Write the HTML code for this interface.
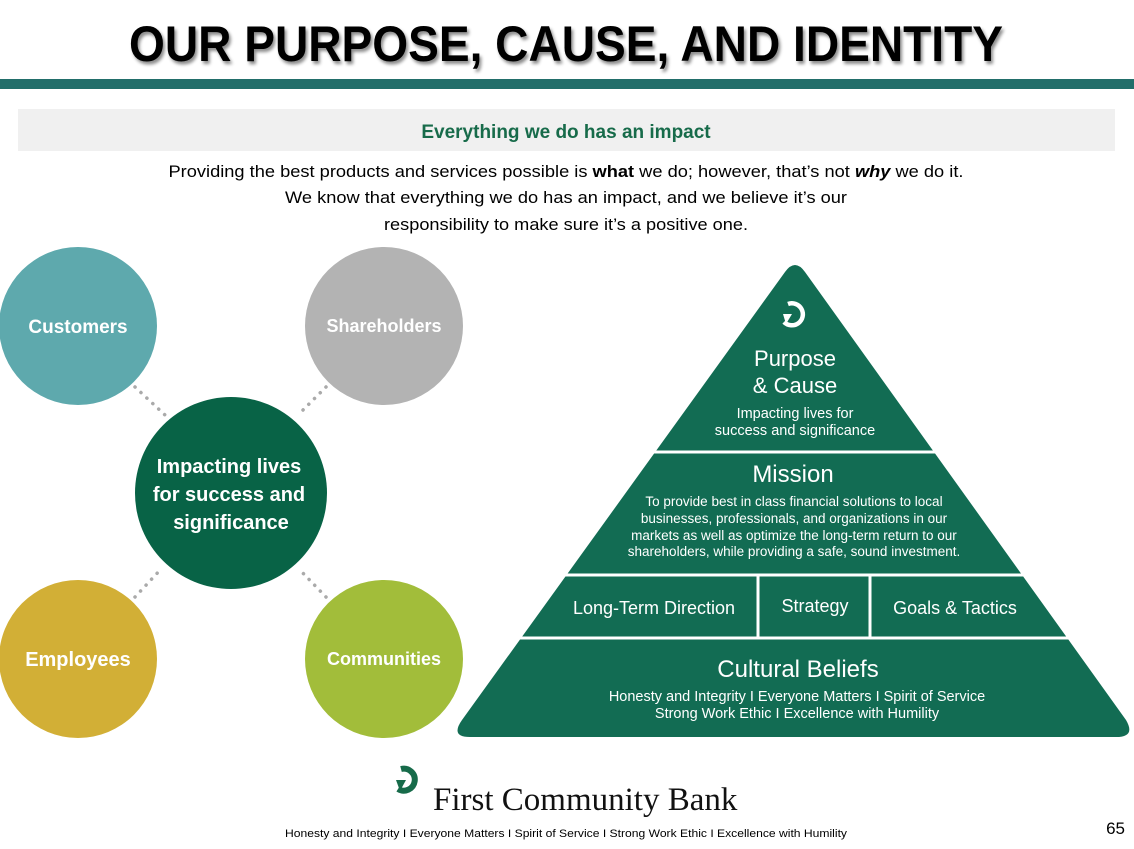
<!DOCTYPE html>
<html><head><meta charset="utf-8"><style>
body{margin:0;width:1134px;height:844px;background:#fff;overflow:hidden;font-family:"Liberation Sans",sans-serif}
</style></head><body>
<svg width="1134" height="844" viewBox="0 0 1134 844" xmlns="http://www.w3.org/2000/svg" font-family="Liberation Sans, sans-serif">
<defs><filter id="sh"><feDropShadow dx="2" dy="3" stdDeviation="1.5" flood-color="#000" flood-opacity="0.45"/></filter></defs>
<text x="566" y="61" text-anchor="middle" font-size="50" font-weight="bold" fill="#000" filter="url(#sh)" textLength="874" lengthAdjust="spacingAndGlyphs">OUR PURPOSE, CAUSE, AND IDENTITY</text>
<rect x="0" y="79" width="1134" height="10" fill="#226e6a"/>
<rect x="18" y="109" width="1097" height="42" fill="#f0f0f0"/>
<text x="566" y="138" text-anchor="middle" font-size="19" font-weight="bold" fill="#176b4a">Everything we do has an impact</text>
<g font-size="17" fill="#000" text-anchor="middle">
<text x="566" y="177" textLength="795" lengthAdjust="spacingAndGlyphs">Providing the best products and services possible is <tspan font-weight="bold">what</tspan> we do; however, that’s not <tspan font-weight="bold" font-style="italic">why</tspan> we do it.</text>
<text x="566" y="203" textLength="562" lengthAdjust="spacingAndGlyphs">We know that everything we do has an impact, and we believe it’s our</text>
<text x="566" y="230" textLength="364" lengthAdjust="spacingAndGlyphs">responsibility to make sure it’s a positive one.</text>
</g>
<g stroke="#aaa" stroke-width="3.5" stroke-dasharray="0.1 8" stroke-linecap="round">
<line x1="135" y1="387" x2="165" y2="415"/><line x1="326" y1="387" x2="298" y2="415"/>
<line x1="135" y1="597" x2="162" y2="568"/><line x1="326" y1="597" x2="298" y2="568"/>
</g>
<circle cx="78" cy="326" r="79" fill="#5ea9ad"/>
<circle cx="384" cy="326" r="79" fill="#b3b3b3"/>
<circle cx="78" cy="659" r="79" fill="#d2af36"/>
<circle cx="384" cy="659" r="79" fill="#a2bd3a"/>
<circle cx="231" cy="493" r="96" fill="#086346"/>
<g fill="#fff" font-weight="bold" text-anchor="middle">
<text x="78" y="333" font-size="19">Customers</text>
<text x="384" y="332" font-size="18">Shareholders</text>
<text x="78" y="666" font-size="20">Employees</text>
<text x="384" y="665" font-size="18">Communities</text>
<text x="229" y="473" font-size="20">Impacting lives</text>
<text x="229" y="501" font-size="20">for success and</text>
<text x="231" y="529" font-size="20">significance</text>
</g>
<path d="M785 272 Q795 258 805 272 L1126 720 Q1136 737 1116 737 L470 737 Q450 737 462 720 Z" fill="#126c53"/>
<g stroke="#fff" stroke-width="3">
<line x1="600" y1="452" x2="1000" y2="452"/>
<line x1="500" y1="575" x2="1100" y2="575"/>
<line x1="480" y1="638" x2="1110" y2="638"/>
<line x1="758" y1="575" x2="758" y2="638"/>
<line x1="870" y1="575" x2="870" y2="638"/>
</g>
<path d="M788 304 A11 11 0 1 1 784 322" fill="none" stroke="#fff" stroke-width="4.5"/>
<path d="M783 314 L792 314 L786 324 Z" fill="#fff"/>
<g fill="#fff" text-anchor="middle">
<text x="795" y="366" font-size="22">Purpose</text>
<text x="795" y="393" font-size="22">&amp; Cause</text>
<text x="795" y="418" font-size="14.5">Impacting lives for</text>
<text x="795" y="435" font-size="14.5">success and significance</text>
<text x="793" y="482" font-size="24">Mission</text>
<text x="794" y="506" font-size="13.5">To provide best in class financial solutions to local</text>
<text x="794" y="523" font-size="13.5">businesses, professionals, and organizations in our</text>
<text x="794" y="540" font-size="13.5">markets as well as optimize the long-term return to our</text>
<text x="794" y="556" font-size="13.5">shareholders, while providing a safe, sound investment.</text>
<text x="654" y="614" font-size="18">Long-Term Direction</text>
<text x="815" y="612" font-size="18">Strategy</text>
<text x="955" y="614" font-size="18">Goals &amp; Tactics</text>
<text x="798" y="677" font-size="24">Cultural Beliefs</text>
<text x="797" y="701" font-size="14.5">Honesty and Integrity I Everyone Matters I Spirit of Service</text>
<text x="797" y="718" font-size="14.5">Strong Work Ethic I Excellence with Humility</text>
</g>
<path d="M401 769 A11 11 0 1 1 398 789" fill="none" stroke="#176b4a" stroke-width="6"/>
<path d="M396 780 L406 780 L400 791 Z" fill="#176b4a"/>
<text x="433" y="810" font-family="Liberation Serif, serif" font-size="33" fill="#111">First Community Bank</text>
<text x="566" y="837" text-anchor="middle" font-size="11" fill="#000" textLength="562" lengthAdjust="spacingAndGlyphs">Honesty and Integrity I Everyone Matters I Spirit of Service I Strong Work Ethic I Excellence with Humility</text>
<text x="1125" y="834" text-anchor="end" font-size="17" fill="#000">65</text>
</svg>
</body></html>
